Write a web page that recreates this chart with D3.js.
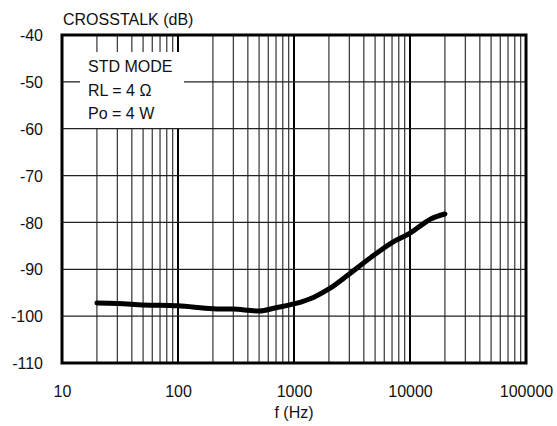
<!DOCTYPE html>
<html><head><meta charset="utf-8">
<script src="https://cdn.jsdelivr.net/npm/d3@7/dist/d3.min.js"></script>
<style>body{margin:0;background:#fff}text{font-family:"Liberation Sans",Arial,sans-serif;fill:#111}</style>
</head><body><svg id="c" width="557" height="426"></svg>
<script>
const freqHz = [20, 30, 50, 100, 200, 300, 500, 700, 1000, 1500, 2000, 3000, 5000, 7000, 10000, 13000, 15000, 20000];
const crosstalkDb = [-97.2, -97.3, -97.6, -97.8, -98.4, -98.5, -98.9, -98.2, -97.4, -95.9, -94.2, -91.0, -86.8, -84.3, -82.3, -80.3, -79.3, -78.2];
const xTicks = [10, 100, 1000, 10000, 100000];
const yTicks = [-40, -50, -60, -70, -80, -90, -100, -110];
const legendLines = ["STD MODE", "RL = 4 \u03A9", "Po = 4 W"];

const svg = d3.select("#c");
const L = 62, R = 526, T = 35, B = 363;
const x = d3.scaleLog().domain([10, 100000]).range([L, R]);
const y = d3.scaleLinear().domain([-110, -40]).range([B, T]);

const minor = [];
for (let d = 10; d < 100000; d *= 10) for (let k = 2; k <= 9; k++) minor.push(d * k);
const g = svg.append("g");
const box = {x0: 80, x1: 184, y0: 52, y1: y(-60)};
function vline(px, color, w) {
  if (px > box.x0 && px < box.x1) {
    g.append("line").attr("x1", px).attr("x2", px).attr("y1", T).attr("y2", box.y0).attr("stroke", color).attr("stroke-width", w);
    g.append("line").attr("x1", px).attr("x2", px).attr("y1", box.y1).attr("y2", B).attr("stroke", color).attr("stroke-width", w);
  } else {
    g.append("line").attr("x1", px).attr("x2", px).attr("y1", T).attr("y2", B).attr("stroke", color).attr("stroke-width", w);
  }
}
minor.forEach(f => vline(x(f), "#333", 1.2));
[100, 1000, 10000].forEach(f => vline(x(f), "#000", 2));
yTicks.forEach(v => {
  const py = y(v);
  if (py > box.y0 && py < box.y1) {
    g.append("line").attr("x1", L).attr("x2", box.x0).attr("y1", py).attr("y2", py).attr("stroke", "#222").attr("stroke-width", 1.3);
    g.append("line").attr("x1", box.x1).attr("x2", R).attr("y1", py).attr("y2", py).attr("stroke", "#222").attr("stroke-width", 1.3);
  } else {
    g.append("line").attr("x1", L).attr("x2", R).attr("y1", py).attr("y2", py).attr("stroke", "#222").attr("stroke-width", 1.3);
  }
});
svg.append("rect").attr("x", L).attr("y", T).attr("width", R - L).attr("height", B - T)
  .attr("fill", "none").attr("stroke", "#000").attr("stroke-width", 3);

legendLines.forEach((t, i) => {
  svg.append("text").attr("x", 88).attr("y", 72 + i * 23.5).attr("font-size", 16).text(t);
});

const xAxis = d3.axisBottom(x).tickValues(xTicks).tickFormat(d => String(d)).tickSize(0).tickPadding(0);
const xa = svg.append("g").attr("transform", `translate(0,${B})`).call(xAxis);
xa.select(".domain").remove();
xa.selectAll("text").attr("font-size", 16).attr("dy", null).attr("y", 34).attr("fill", "#111");
const yAxis = d3.axisLeft(y).tickValues(yTicks).tickFormat(d => String(d)).tickSize(0).tickPadding(0);
const ya = svg.append("g").attr("transform", `translate(${L},0)`).call(yAxis);
ya.select(".domain").remove();
ya.selectAll("text").attr("font-size", 16).attr("x", -19).attr("dy", "0.35em").attr("fill", "#111").attr("text-anchor", "end");
svg.selectAll(".tick text").style("font-family", '"Liberation Sans",Arial,sans-serif');

svg.append("text").attr("x", 63).attr("y", 25).attr("font-size", 16).text("CROSSTALK (dB)");
svg.append("text").attr("x", x(1000)).attr("y", 418).attr("font-size", 16).attr("text-anchor", "middle").text("f (Hz)");

const line = d3.line().x((d, i) => x(freqHz[i])).y(d => y(d)).curve(d3.curveMonotoneX);
svg.append("path").datum(crosstalkDb).attr("d", line).attr("fill", "none")
  .attr("stroke", "#000").attr("stroke-width", 5).attr("stroke-linecap", "round").attr("stroke-linejoin", "round");
</script></body></html>
